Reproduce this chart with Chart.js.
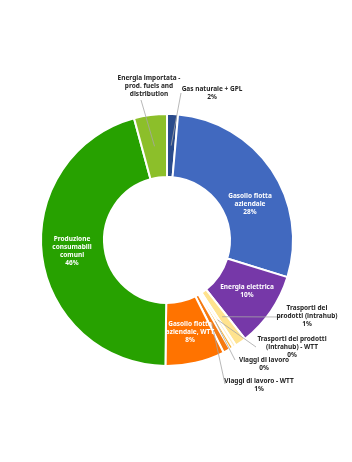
<!DOCTYPE html>
<html>
<head>
<meta charset="utf-8">
<script src="https://cdn.jsdelivr.net/npm/chart.js@4.4.1/dist/chart.umd.min.js"></script>
<style>
  html, body { margin: 0; padding: 0; background: #ffffff; }
  canvas { display: block; }
</style>
</head>
<body>
<canvas id="emissionChart" width="352" height="462"></canvas>
<script>
// categorie in ordine orario, partendo dalle ore 12
const categories = [
    'Gas naturale + GPL',
    'Gasolio flotta aziendale',
    'Energia elettrica',
    'Trasporti dei prodotti (intrahub)',
    'Trasporti dei prodotti (intrahub) - WTT',
    'Viaggi di lavoro',
    'Viaggi di lavoro - WTT',
    'Gasolio flotta aziendale, WTT',
    'Produzione consumabili comuni',
    'Energia importata - prod. fuels and distribution'
];
// quote stimate dal grafico (%)
const shares = [1.4, 28.3, 9.6, 1.4, 0.45, 0.45, 0.9, 7.6, 45.5, 4.2];
// percentuali come stampate sulle etichette
const percentLabels = ['2%', '28%', '10%', '1%', '0%', '0%', '1%', '8%', '46%', ''];
// testo delle etichette già spezzato come nell'originale
const labelLines = [
    ['Gas naturale + GPL'],
    ['Gasolio flotta', 'aziendale'],
    ['Energia elettrica'],
    ['Trasporti dei', 'prodotti (intrahub)'],
    ['Trasporti dei prodotti', '(intrahub) - WTT'],
    ['Viaggi di lavoro'],
    ['Viaggi di lavoro - WTT'],
    ['Gasolio flotta', 'aziendale, WTT'],
    ['Produzione', 'consumabili', 'comuni'],
    ['Energia importata -', 'prod. fuels and', 'distribution']
];

const sliceColors = [
    '#2A4B8B', '#4169BF', '#7638A8', '#FFE38F', '#FFF0C4',
    '#F7B43A', '#F57A10', '#FF7300', '#27A100', '#8CBF2A'
];

// posizione delle etichette (centro x, y della prima riga) e inizio della linea guida
const labelLayout = [
    { x: 212, y: 89, dark: true, leader: [181, 93] },
    { x: 250, y: 196, dark: false },
    { x: 247, y: 287, dark: false },
    { x: 307, y: 308, dark: true, leader: [284, 317] },
    { x: 292, y: 339, dark: true, leader: [256, 347] },
    { x: 264, y: 360, dark: true, leader: [235, 360] },
    { x: 259, y: 381, dark: true, leader: [225, 384] },
    { x: 190, y: 324, dark: false },
    { x: 72, y: 239, dark: false },
    { x: 149, y: 78, dark: true, leader: [141, 100] }
];

const LINE_H = 8;

const sliceLabelsPlugin = {
    id: 'sliceLabels',
    afterDatasetsDraw(chart) {
        const ctx = chart.ctx;
        const arcs = chart.getDatasetMeta(0).data;
        ctx.save();
        // linee guida
        ctx.strokeStyle = '#A6A6A6';
        ctx.lineWidth = 0.8;
        labelLayout.forEach((pos, i) => {
            if (!pos.leader) return;
            const arc = arcs[i];
            const mid = (arc.startAngle + arc.endAngle) / 2;
            const r = (arc.innerRadius + arc.outerRadius) / 2;
            ctx.beginPath();
            ctx.moveTo(pos.leader[0], pos.leader[1]);
            ctx.lineTo(arc.x + Math.cos(mid) * r, arc.y + Math.sin(mid) * r);
            ctx.stroke();
        });
        // testo
        ctx.font = 'bold 6.5px "Noto Sans", "DejaVu Sans", sans-serif';
        ctx.textAlign = 'center';
        ctx.textBaseline = 'middle';
        labelLayout.forEach((pos, i) => {
            const lines = labelLines[i].slice();
            if (percentLabels[i] !== '') lines.push(percentLabels[i]);
            ctx.fillStyle = pos.dark ? '#262626' : '#FFFFFF';
            lines.forEach((txt, k) => {
                ctx.fillText(txt, pos.x, pos.y + k * LINE_H);
            });
        });
        ctx.restore();
    }
};

const ctx = document.getElementById('emissionChart').getContext('2d');
new Chart(ctx, {
    type: 'doughnut',
    data: {
        labels: categories,
        datasets: [{
            data: shares,
            backgroundColor: sliceColors,
            borderColor: '#FFFFFF',
            borderWidth: 2
        }]
    },
    options: {
        responsive: false,
        animation: false,
        cutout: '50%',
        layout: {
            padding: { left: 40, right: 58, top: 113, bottom: 95 }
        },
        plugins: {
            legend: { display: false },
            tooltip: { enabled: false }
        }
    },
    plugins: [sliceLabelsPlugin]
});
</script>
</body>
</html>
